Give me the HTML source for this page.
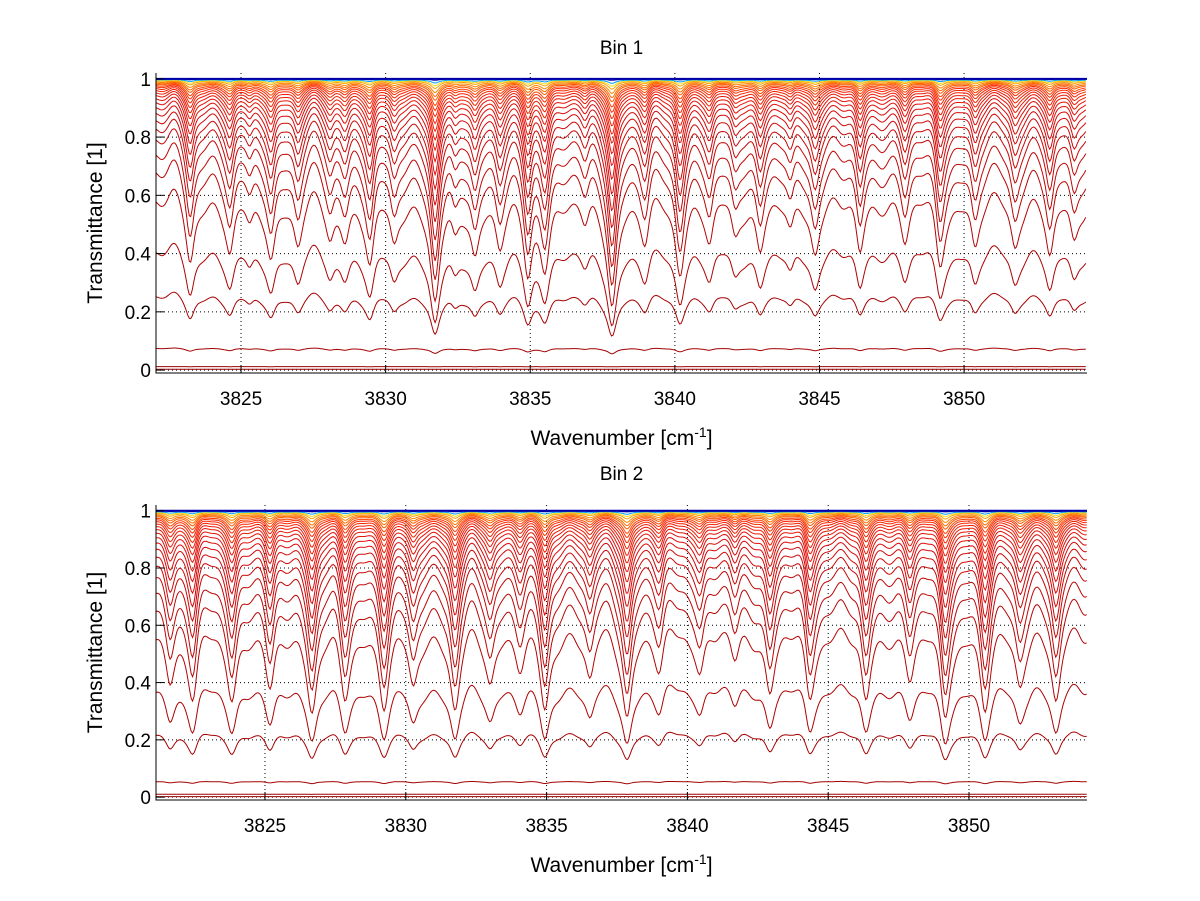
<!DOCTYPE html>
<html><head><meta charset="utf-8">
<style>
body{margin:0;background:#fff;}
svg{display:block;font-family:"Liberation Sans",sans-serif;}
</style></head>
<body>
<svg id="chart" width="1200" height="901" viewBox="0 0 1200 901"></svg>
<script>
// ---------- data ----------
const xTicks = [3825, 3830, 3835, 3840, 3845, 3850];
const yTicks = [0, 0.2, 0.4, 0.6, 0.8, 1];
const yTickLabels = ["0", "0.2", "0.4", "0.6", "0.8", "1"];
const bin1LineCenters = [3823.24,3824.62,3825.3,3826.04,3826.97,3828.08,3828.6,3829.46,3830.29,3831.71,3832.4,3833.09,3833.95,3834.92,3835.51,3836.9,3837.83,3838.97,3840.18,3841.2,3842.08,3842.95,3844.0,3844.85,3846.4,3847.96,3849.17,3850.38,3851.76,3852.97,3853.8];
const bin1LineStrengths = [0.8,0.6,0.3,0.7,0.5,0.4,0.4,0.8,0.5,1.5,0.4,0.6,0.5,1.0,0.8,0.3,1.6,0.5,0.9,0.5,0.4,0.6,0.4,0.6,0.7,0.5,0.8,0.6,0.5,0.7,0.5];
const bin2LineCenters = [3821.63,3822.44,3823.83,3825.18,3826.67,3827.84,3829.23,3830.26,3831.75,3833.0,3834.06,3834.94,3836.54,3837.86,3839.0,3840.45,3841.69,3842.93,3844.35,3846.34,3847.9,3849.15,3850.57,3851.81,3853.09];
const bin2LineStrengths = [0.6,0.9,0.9,0.8,1.1,0.9,1.0,0.7,1.1,0.6,0.4,1.1,0.6,1.2,0.5,0.5,0.4,0.8,0.9,1.0,0.6,1.2,1.1,0.6,1.0];
const bin1Baselines = [0.999,0.997,0.995,0.993,0.99,0.987,0.984,0.98,0.976,0.971,0.965,0.958,0.95,0.94,0.928,0.913,0.895,0.872,0.845,0.81,0.76,0.7,0.6,0.42,0.26,0.075,0.012,0.003];
const bin2Baselines = [0.999,0.997,0.995,0.993,0.99,0.987,0.984,0.98,0.976,0.971,0.965,0.958,0.95,0.94,0.928,0.913,0.895,0.872,0.845,0.81,0.76,0.7,0.6,0.4,0.23,0.055,0.01,0.002];

const NS="http://www.w3.org/2000/svg";
const svg=document.getElementById('chart');
function mk(tag,attrs,parent){const e=document.createElementNS(NS,tag);for(const k in attrs)e.setAttribute(k,attrs[k]);(parent||svg).appendChild(e);return e;}

function colorFor(i,n){
  const t=i/(n-1);
  const stops=[[0,[0,0,170]],[0.04,[0,170,255]],[0.07,[240,230,40]],[0.12,[255,150,0]],[0.3,[255,40,0]],[0.55,[220,10,10]],[1,[150,0,0]]];
  for(let k=0;k<stops.length-1;k++){const a=stops[k],b=stops[k+1];if(t<=b[0]){const f=(t-a[0])/(b[0]-a[0]);return 'rgb('+a[1].map((v,j)=>Math.round(v+(b[1][j]-v)*f)).join(',')+')';}}
  return 'rgb(150,0,0)';
}

function drawPanel(o){
  const {left,right,top,bottom,xmin,xmax,ymin,ymax,title,titleY,centers,strengths,baselines,width,name}=o;
  const g=mk('g',{});
  
  
  const X=v=>left+(v-xmin)/(xmax-xmin)*(right-left);
  const Y=v=>bottom-(v-ymin)/(ymax-ymin)*(bottom-top);
  xTicks.forEach(t=>{const l=mk('line',{x1:X(t),x2:X(t),y1:top,y2:bottom,stroke:'#000','stroke-width':1,'stroke-dasharray':'1,3'},g);
    });
  yTicks.forEach(t=>{const l=mk('line',{x1:left,x2:right,y1:Y(t),y2:Y(t),stroke:'#000','stroke-width':1,'stroke-dasharray':'1,3'},g);
    });
  const step=0.05;
  const shape=[];
  for(let v=xmin;v<=xmax+1e-9;v+=step){
    let s=0.12+0.06*Math.sin(v*2.7)+0.05*Math.sin(v*5.3+1)+0.04*Math.sin(v*9.1+2);
    centers.forEach((c,i)=>{const d=(v-c)/width;s+=strengths[i]/(1+d*d);});
    shape.push([v,s]);
  }
  const n=baselines.length;
  for(let i=n-1;i>=0;i--){
    const T0=baselines[i];
    const gk=2.5*(1-T0)*T0;
    const pts=shape.map(p=>{const T=T0*Math.exp(-(p[1]-0.12)*gk);return X(p[0]).toFixed(1)+','+Y(T).toFixed(1);}).join(' ');
    const pl=mk('polyline',{points:pts,fill:'none',stroke:colorFor(i,n),'stroke-width':1},g);
    
    
  }
  const bl=mk('line',{x1:left,x2:right,y1:Y(1),y2:Y(1),stroke:'#0000aa','stroke-width':2},g);
  
  
  const ax=mk('path',{d:`M${left},${top} V${bottom} H${right}`,stroke:'#000','stroke-width':1,fill:'none'},g);
  
  
  xTicks.forEach(t=>{
    mk('line',{x1:X(t),x2:X(t),y1:bottom,y2:bottom-8,stroke:'#000'},g);
    const tx=mk('text',{x:X(t),y:bottom+32,'text-anchor':'middle','font-size':19},g);
    tx.textContent=t;
    
    
  });
  yTicks.forEach((t,i)=>{
    mk('line',{x1:left,x2:left+8,y1:Y(t),y2:Y(t),stroke:'#000'},g);
    const tx=mk('text',{x:left-5,y:Y(t)+7,'text-anchor':'end','font-size':19},g);
    tx.textContent=yTickLabels[i];
    
    
  });
  const tt=mk('text',{x:(left+right)/2,y:titleY,'text-anchor':'middle','font-size':19},g);
  tt.textContent=title;
  
  
  const xl=mk('text',{x:(left+right)/2,y:bottom+72,'text-anchor':'middle','font-size':21},g);
  xl.innerHTML='Wavenumber [cm<tspan dy="-8" font-size="14">-1</tspan><tspan dy="8">]</tspan>';
  
  
  const yl=mk('text',{x:0,y:0,'text-anchor':'middle','font-size':21,transform:`translate(102,${(top+bottom)/2}) rotate(-90)`},g);
  yl.textContent='Transmittance [1]';
  
  
}

drawPanel({left:156,right:1087,top:73,bottom:373,xmin:3822.06,xmax:3854.25,ymin:-0.01,ymax:1.02,title:'Bin 1',titleY:54,
  centers:bin1LineCenters,strengths:bin1LineStrengths,baselines:bin1Baselines,width:0.17,name:'bin-1-panel'});
drawPanel({left:156,right:1087,top:505,bottom:800,xmin:3821.13,xmax:3854.19,ymin:-0.01,ymax:1.02,title:'Bin 2',titleY:480,
  centers:bin2LineCenters,strengths:bin2LineStrengths,baselines:bin2Baselines,width:0.19,name:'bin-2-panel'});
</script>
</body></html>
